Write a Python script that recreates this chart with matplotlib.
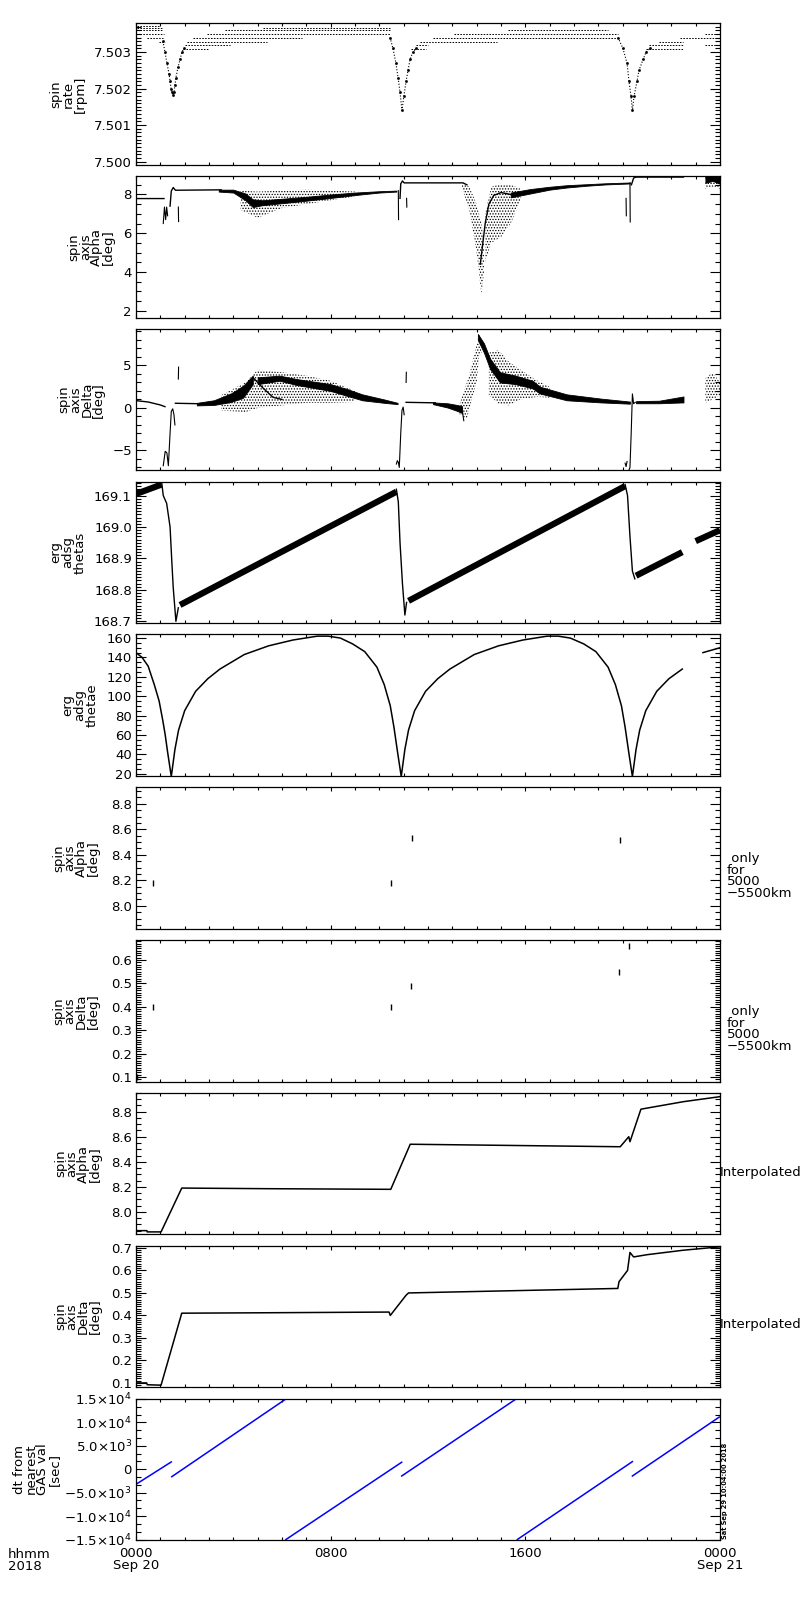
"""
ERG spin / attitude summary, ten stacked panels over one day (Sep 20 2018).
"""
import numpy as np
import matplotlib
matplotlib.use("Agg")
import matplotlib.pyplot as plt
from matplotlib.ticker import MultipleLocator, AutoMinorLocator, FuncFormatter

nan = np.nan

# ---------------- panel 1: spin rate [rpm] (quantised levels + dips)
rate_lvl = [7.50372, 7.50366, 7.50366, 7.50361, 7.50361, 7.50350, 7.50350,
            7.50339, 7.50339, 7.50328, 7.50328, 7.50320, 7.50309,
            7.50361, 7.50350, 7.50339, 7.50328, 7.50320, 7.50309,
            7.50309, 7.50320, 7.50328, 7.50339, 7.50350, 7.50320]
rate_t0 = [0.04, 0.04, 5.20, 0.04, 3.66, 0.04, 2.92, 0.45, 2.33, 0.95, 2.09, 2.01, 1.93,
           15.29, 13.07, 12.2, 11.67, 11.5, 11.3,
           20.96, 21.1, 21.5, 22.36, 23.4, 23.4]
rate_t1 = [0.99, 1.11, 10.44, 1.11, 10.44, 1.15, 10.44, 1.11, 6.82, 1.19, 5.38, 3.86, 2.99,
           19.40, 19.8, 19.8, 14.84, 12.0, 11.9,
           22.48, 22.48, 22.48, 24.0, 24.0, 24.0]
rate_dip_t = [1.11, 1.19, 1.27, 1.36, 1.40, 1.44, 1.48, 1.52, 1.56, 1.60, 1.64, 1.73, 1.81, 1.89, 1.97, nan,
              10.44, 10.56, 10.68, 10.77, 10.85, 10.93, 11.01, 11.10, 11.18, 11.26, 11.38, 11.51, nan,
              19.81, 20.01, 20.18, 20.26, 20.34, 20.40, 20.47, 20.59, 20.67, 20.84, 20.96, 21.12]
rate_dip_v = [7.5033, 7.5030, 7.5027, 7.5024, 7.5022, 7.5020, 7.5019, 7.50182, 7.5019, 7.5021,
              7.5023, 7.5026, 7.5028, 7.5030, 7.5031, nan,
              7.5034, 7.5031, 7.5027, 7.5023, 7.5019, 7.5014, 7.5018, 7.5022, 7.5025, 7.5028,
              7.5030, 7.5031, nan,
              7.5034, 7.5031, 7.5027, 7.5022, 7.5018, 7.5014, 7.5018, 7.5022, 7.5025, 7.5028,
              7.5030, 7.5031]

# ---------------- panel 2: spin axis Alpha [deg]
alpha_line_t = [0.0, 1.15, nan, 1.40, 1.45, 1.53, 1.62, 3.5, nan, 10.85, 10.88, 10.95, 11.02,
                13.44, 13.6, nan, 14.15, 14.35, 14.5, 14.7, 15.0, 15.4, nan, 20.36, 20.45, 20.55, 22.5]
alpha_line_v = [7.79, 7.79, nan, 7.4, 8.18, 8.36, 8.22, 8.24, nan, 7.8, 8.55, 8.7, 8.6,
                8.6, 8.5, nan, 4.4, 6.5, 7.5, 7.95, 8.1, 8.0, nan, 8.5, 8.85, 8.9, 8.9]
alpha_spk_t = [1.12, 1.17, 1.22, 1.26, 1.30, nan, 1.74, 1.75, nan, 10.78, 10.79, nan,
               11.12, 11.13, nan, 20.14, 20.15, nan, 20.30, 20.31]
alpha_spk_v = [6.5, 7.35, 6.7, 7.35, 6.9, nan, 7.35, 6.6, nan, 8.2, 6.7, nan,
               7.8, 7.35, nan, 7.8, 6.9, nan, 8.6, 6.58]
alpha_bandA_t = [3.4, 4.0, 4.5, 4.8, 5.2, 6.0, 7.0, 8.0, 9.0, 10.0, 10.7]
alpha_bandA_hi = [8.25, 8.25, 8.05, 7.75, 7.7, 7.78, 7.88, 8.0, 8.1, 8.17, 8.2]
alpha_bandA_lo = [8.15, 8.1, 7.7, 7.35, 7.45, 7.55, 7.68, 7.82, 7.97, 8.1, 8.15]
alpha_bandB_t = [15.4, 16.2, 17.0, 17.7, 18.5, 19.3, 20.3]
alpha_bandB_hi = [8.1, 8.28, 8.4, 8.48, 8.53, 8.58, 8.62]
alpha_bandB_lo = [7.85, 8.05, 8.25, 8.36, 8.45, 8.52, 8.57]
alpha_bandC_t = [23.4, 23.7, 24.0]
alpha_bandC_hi = [8.95, 8.95, 8.9]
alpha_bandC_lo = [8.6, 8.7, 8.55]
alpha_cloudA_t = [4.3, 5.0, 6.0, 7.0, 8.0, 9.0]
alpha_cloudA_hi = [8.2, 8.15, 8.2, 8.25, 8.2, 8.15]
alpha_cloudA_lo = [7.2, 6.8, 7.3, 7.5, 7.7, 7.9]
alpha_cloudB_t = [13.4, 13.7, 14.0, 14.2, 14.3]
alpha_cloudB_hi = [8.6, 8.4, 7.5, 6.5, 5.5]
alpha_cloudB_lo = [8.3, 7.2, 5.0, 2.8, 4.0]
alpha_cloudC_t = [14.35, 14.6, 15.0, 15.4, 15.8]
alpha_cloudC_hi = [7.0, 8.4, 8.55, 8.5, 8.3]
alpha_cloudC_lo = [4.5, 5.5, 5.8, 6.5, 7.7]
alpha_cloudD_t = [23.4, 23.7, 24.0]
alpha_cloudD_hi = [8.95, 8.95, 8.9]
alpha_cloudD_lo = [8.3, 8.4, 8.3]

# ---------------- panel 3: spin axis Delta [deg]
delta_line_t = [0.0, 0.5, 1.0, 1.19, nan, 1.62, 2.5, nan, 4.8, 5.2, 5.63, 6.0, nan, 11.1, 12.3]
delta_line_v = [0.86, 0.7, 0.35, 0.15, nan, 0.55, 0.5, nan, 3.6, 2.4, 1.25, 1.0, nan, 0.66, 0.6]
delta_dip_t = [1.12, 1.20, 1.27, 1.33, 1.40, 1.45, 1.51, 1.56, 1.60, nan, 1.74, 1.75, nan,
               10.70, 10.74, 10.78, 10.82, 10.88, 10.93, 10.98, 11.02, nan, 11.10, 11.11, nan,
               13.42, 13.47, nan,
               20.10, 20.14, 20.18, nan, 20.26, 20.30, 20.35, 20.40, 20.45, 20.52]
delta_dip_v = [-6.8, -5.1, -5.3, -6.8, -3.0, -0.4, -0.1, -0.8, -2.0, nan, 3.4, 4.8, nan,
               -6.6, -6.2, -6.4, -7.0, -3.0, -0.3, 0.1, -0.8, nan, 3.0, 4.2, nan,
               -0.5, -1.5, nan,
               -6.5, -6.9, -6.3, nan, -7.3, -7.0, -3.0, 1.65, 0.5, 0.66]
delta_bandA_t = [2.5, 3.2, 3.9, 4.4, 4.8]
delta_bandA_hi = [0.6, 0.9, 1.7, 2.6, 3.8]
delta_bandA_lo = [0.3, 0.35, 0.7, 1.2, 2.8]
delta_bandB_t = [5.0, 5.9, 6.6, 8.0, 8.7, 9.3, 10.2, 10.75]
delta_bandB_hi = [3.6, 3.8, 3.4, 2.8, 2.2, 1.6, 1.0, 0.6]
delta_bandB_lo = [2.8, 3.2, 2.7, 2.0, 1.4, 0.9, 0.6, 0.45]
delta_bandC_t = [12.2, 12.8, 13.2, 13.4]
delta_bandC_hi = [0.65, 0.55, 0.35, 0.2]
delta_bandC_lo = [0.45, 0.05, -0.35, -0.6]
delta_bandD_t = [14.05, 14.3, 14.55, 14.96, 15.6, 16.3, 16.6, 17.7, 19.1, 20.3]
delta_bandD_hi = [8.7, 7.6, 5.8, 4.2, 3.8, 3.2, 2.5, 1.6, 1.1, 0.75]
delta_bandD_lo = [8.0, 6.5, 4.6, 3.0, 2.8, 2.3, 1.7, 0.9, 0.65, 0.5]
delta_bandE_t = [20.55, 21.5, 22.0, 22.5]
delta_bandE_hi = [0.8, 0.85, 1.1, 1.35]
delta_bandE_lo = [0.55, 0.55, 0.6, 0.65]
delta_cloudA_t = [3.5, 4.5, 5.0, 6.0, 7.0, 8.0, 9.0]
delta_cloudA_hi = [1.5, 3.0, 4.5, 4.2, 3.8, 3.2, 2.0]
delta_cloudA_lo = [-0.3, -0.5, 0.0, 0.3, 0.6, 0.6, 0.7]
delta_cloudB_t = [13.3, 13.6, 13.8, 14.0, 14.1, 14.2]
delta_cloudB_hi = [0.5, 3.0, 5.0, 7.5, 8.7, 8.0]
delta_cloudB_lo = [-0.8, -1.3, 1.0, 3.0, 6.0, 6.5]
delta_cloudC_t = [14.5, 14.9, 15.3, 15.8, 16.5, 17.0]
delta_cloudC_hi = [6.5, 6.8, 5.5, 4.5, 3.2, 2.5]
delta_cloudC_lo = [1.5, 0.5, 0.3, 1.0, 1.3, 1.2]
delta_cloudD_t = [23.4, 23.7, 24.0]
delta_cloudD_hi = [3.5, 4.2, 3.0]
delta_cloudD_lo = [0.6, 1.0, 1.5]

# ---------------- panel 4: erg adsg thetas
thetas_band_t = [0.0, 1.05, nan, 1.81, 10.7, nan, 11.2, 20.1, nan, 20.55, 22.45, nan, 23.0, 24.0]
thetas_band_v = [169.105, 169.135, nan, 168.752, 169.112, nan, 168.765, 169.13, nan,
                 168.845, 168.92, nan, 168.955, 168.99]
thetas_drop_t = [1.05, 1.12, 1.26, 1.4, 1.47, 1.53, 1.64, 1.74, nan,
                 10.7, 10.78, 10.85, 10.95, 11.05, 11.12, nan,
                 20.1, 20.2, 20.3, 20.4, 20.5]
thetas_drop_v = [169.145, 169.10, 169.075, 169.0, 168.893, 168.807, 168.70, 168.743, nan,
                 169.12, 169.08, 168.95, 168.82, 168.72, 168.76, nan,
                 169.135, 169.10, 168.97, 168.86, 168.835]

# ---------------- panel 5: erg adsg thetae
thetae_t = [0.0, 0.25, 0.5, 0.75, 0.95, 1.1, 1.2, 1.3, 1.45,
            1.6, 1.75, 2.0, 2.45, 2.95, 3.45, 4.45, 5.45, 6.45, 7.45, 7.9,
            8.4, 8.9, 9.4, 9.9, 10.2, 10.45, 10.6, 10.75, 10.9,
            11.05, 11.2, 11.45, 11.9, 12.4, 12.9, 13.9, 14.9, 15.9, 16.9, 17.35,
            17.85, 18.4, 18.9, 19.4, 19.7, 19.95, 20.1, 20.25, 20.4,
            20.55, 20.7, 20.95, 21.4, 21.9, 22.45, nan, 23.3, 24.0]
thetae_v = [145, 140, 131, 112, 95, 75, 60, 42, 17,
            45, 65, 85, 105, 118, 128, 143, 152, 158, 162, 162,
            160, 154, 146, 130, 112, 90, 68, 42, 17,
            45, 65, 85, 105, 118, 128, 143, 152, 158, 162, 162,
            160, 154, 146, 130, 112, 90, 68, 42, 17,
            45, 65, 85, 105, 118, 128, nan, 145, 150]

# ---------------- panels 6/7: alpha / delta only for 5000-5500 km
alt_alpha_t = [0.7, 10.48, 11.34, 19.9]
alt_alpha_v = [8.18, 8.18, 8.53, 8.52]
alt_delta_t = [0.05, 0.7, 10.48, 11.3, 19.85, 20.25]
alt_delta_v = [0.10, 0.40, 0.40, 0.49, 0.55, 0.66]

# ---------------- panels 8/9: interpolated alpha / delta
interp_alpha_t = [0.0, 0.45, 0.46, 1.03, 1.88, 5.4, 10.47, 11.27, 19.9, 20.25, 20.3, 20.75, 22.5, 24.0]
interp_alpha_v = [7.85, 7.85, 7.84, 7.84, 8.19, 8.185, 8.18, 8.54, 8.52, 8.6, 8.56, 8.82, 8.88, 8.92]
interp_delta_t = [0.0, 0.44, 0.46, 1.03, 1.88, 5.5, 10.4, 10.45, 11.1, 11.2, 19.8, 19.85, 20.2,
                  20.3, 20.45, 21.0, 22.5, 24.0]
interp_delta_v = [0.1, 0.1, 0.092, 0.09, 0.41, 0.412, 0.415, 0.40, 0.49, 0.5, 0.52, 0.55, 0.6,
                  0.68, 0.66, 0.67, 0.69, 0.705]

# ---------------- panel 10: dt from nearest GAS val [sec]
dt_t = [0.0, 1.45, nan, 1.47, 6.16, nan, 6.16, 10.92, nan, 10.92, 15.62, nan,
        15.67, 20.40, nan, 20.40, 23.97]
dt_v = [-3214, 1564, nan, -1586, 15000, nan, -15000, 1500, nan, -1436, 15000, nan,
        -15000, 1630, nan, -1436, 11140]

YLABELS = ["spin\nrate\n[rpm]", "spin\naxis\nAlpha\n[deg]", "spin\naxis\nDelta\n[deg]",
           "erg\nadsg\nthetas", "erg\nadsg\nthetae", "spin\naxis\nAlpha\n[deg]",
           "spin\naxis\nDelta\n[deg]", "spin\naxis\nAlpha\n[deg]", "spin\naxis\nDelta\n[deg]",
           "dt from\nnearest\nGAS val\n[sec]"]
YLABEL_X = [68, 91, 81, 68, 80, 76, 76, 78, 78, 37]
RIGHT_NOTES = [None, None, None, None, None, " only\nfor\n5000\n\u22125500km",
               " only\nfor\n5000\n\u22125500km", "Interpolated", "Interpolated", None]

# --- layout in pixels
FIG_W, FIG_H = 800, 1600
LEFT, RIGHT = 136, 720
TOP0, PITCH, HEIGHT = 23.3, 152.8, 141.5

plt.rcParams["font.family"] = "DejaVu Sans"
plt.rcParams["font.size"] = 9.5
plt.rcParams["axes.linewidth"] = 0.9
plt.rcParams["hatch.linewidth"] = 0.6
plt.rcParams["axes.unicode_minus"] = True


def panel_rect(i):
    top = TOP0 + i * PITCH
    return [LEFT / FIG_W, 1 - (top + HEIGHT) / FIG_H, (RIGHT - LEFT) / FIG_W, HEIGHT / FIG_H]


def fmt(spec):
    return FuncFormatter(lambda v, p: (spec % v).replace("-", "\u2212"))


def style_axis(ax, ylim, ystep, yfmt, nminor):
    ax.set_xlim(0, 24)
    ax.set_ylim(*ylim)
    ax.xaxis.set_major_locator(MultipleLocator(8))
    ax.xaxis.set_minor_locator(MultipleLocator(1))
    ax.yaxis.set_major_locator(MultipleLocator(ystep))
    ax.yaxis.set_minor_locator(AutoMinorLocator(nminor))
    ax.yaxis.set_major_formatter(yfmt)
    ax.tick_params(which="both", direction="in", top=True, right=True,
                   labelbottom=False, width=0.8)
    ax.tick_params(axis="y", which="major", length=7.5, pad=3)
    ax.tick_params(axis="y", which="minor", length=3.8)
    ax.tick_params(axis="x", which="major", length=3.2)
    ax.tick_params(axis="x", which="minor", length=2.0)


def band(ax, t, lo, hi):
    ax.fill_between(t, lo, hi, color="black", lw=0.6)


def cloud(ax, t, lo, hi):
    ax.fill_between(t, lo, hi, facecolor="none", edgecolor="black", hatch="......", lw=0)


fig = plt.figure(figsize=(FIG_W / 100, FIG_H / 100), dpi=100)
axes = [fig.add_axes(panel_rect(i)) for i in range(10)]

# panel 1
ax = axes[0]
ax.hlines(rate_lvl, rate_t0, rate_t1, colors="black", lw=0.7, linestyles=(0, (1.6, 1.4)))
ax.plot(rate_dip_t, rate_dip_v, ls=":", lw=0.8, color="black", marker="s", ms=0.9)
style_axis(ax, (7.49991, 7.50379), 0.001, fmt("%.3f"), 10)

# panel 2
ax = axes[1]
ax.plot(alpha_line_t, alpha_line_v, color="black", lw=1.0)
ax.plot(alpha_spk_t, alpha_spk_v, color="black", lw=0.8)
for t, lo, hi in [(alpha_bandA_t, alpha_bandA_lo, alpha_bandA_hi),
                  (alpha_bandB_t, alpha_bandB_lo, alpha_bandB_hi),
                  (alpha_bandC_t, alpha_bandC_lo, alpha_bandC_hi)]:
    band(ax, t, lo, hi)
for t, lo, hi in [(alpha_cloudA_t, alpha_cloudA_lo, alpha_cloudA_hi),
                  (alpha_cloudB_t, alpha_cloudB_lo, alpha_cloudB_hi),
                  (alpha_cloudC_t, alpha_cloudC_lo, alpha_cloudC_hi),
                  (alpha_cloudD_t, alpha_cloudD_lo, alpha_cloudD_hi)]:
    cloud(ax, t, lo, hi)
style_axis(ax, (1.64, 8.95), 2, fmt("%d"), 4)

# panel 3
ax = axes[2]
ax.plot(delta_line_t, delta_line_v, color="black", lw=1.0)
ax.plot(delta_dip_t, delta_dip_v, color="black", lw=0.8)
for t, lo, hi in [(delta_bandA_t, delta_bandA_lo, delta_bandA_hi),
                  (delta_bandB_t, delta_bandB_lo, delta_bandB_hi),
                  (delta_bandC_t, delta_bandC_lo, delta_bandC_hi),
                  (delta_bandD_t, delta_bandD_lo, delta_bandD_hi),
                  (delta_bandE_t, delta_bandE_lo, delta_bandE_hi)]:
    band(ax, t, lo, hi)
for t, lo, hi in [(delta_cloudA_t, delta_cloudA_lo, delta_cloudA_hi),
                  (delta_cloudB_t, delta_cloudB_lo, delta_cloudB_hi),
                  (delta_cloudC_t, delta_cloudC_lo, delta_cloudC_hi),
                  (delta_cloudD_t, delta_cloudD_lo, delta_cloudD_hi)]:
    cloud(ax, t, lo, hi)
style_axis(ax, (-7.35, 9.3), 5, fmt("%d"), 5)

# panel 4
ax = axes[3]
ax.plot(thetas_band_t, thetas_band_v, color="black", lw=4.5, solid_capstyle="butt")
ax.plot(thetas_drop_t, thetas_drop_v, color="black", lw=1.0)
style_axis(ax, (168.694, 169.144), 0.1, fmt("%.1f"), 10)

# panel 5
ax = axes[4]
ax.plot(thetae_t, thetae_v, color="black", lw=1.1)
style_axis(ax, (17.5, 163.7), 20, fmt("%d"), 4)

# panels 6, 7
ax = axes[5]
ax.plot(alt_alpha_t, alt_alpha_v, ls="none", marker="|", ms=4, mew=1.0, color="black")
style_axis(ax, (7.82, 8.93), 0.2, fmt("%.1f"), 4)
ax = axes[6]
ax.plot(alt_delta_t, alt_delta_v, ls="none", marker="|", ms=5, mew=1.0, color="black")
style_axis(ax, (0.08, 0.685), 0.1, fmt("%.1f"), 10)

# panels 8, 9
ax = axes[7]
ax.plot(interp_alpha_t, interp_alpha_v, color="black", lw=1.1)
style_axis(ax, (7.82, 8.95), 0.2, fmt("%.1f"), 4)
ax = axes[8]
ax.plot(interp_delta_t, interp_delta_v, color="black", lw=1.1)
style_axis(ax, (0.081, 0.71), 0.1, fmt("%.1f"), 10)

# panel 10
ax = axes[9]
ax.plot(dt_t, dt_v, color="blue", lw=1.1)
dt_labels = {15000: r"1.5$\times$10$^4$", 10000: r"1.0$\times$10$^4$",
             5000: r"5.0$\times$10$^3$", 0: "0", -5000: "\u22125.0$\\times$10$^3$",
             -10000: "\u22121.0$\\times$10$^4$", -15000: "\u22121.5$\\times$10$^4$"}
style_axis(ax, (-15100, 15100), 5000,
           FuncFormatter(lambda v, p: dt_labels.get(int(round(v)), "")), 3)
ax.tick_params(labelbottom=True, axis="x", pad=5)
ax.set_xticks([0, 8, 16, 24])
ax.set_xticklabels(["0000\nSep 20", "0800", "1600", "0000\nSep 21"], linespacing=0.9)
fig.text(8 / FIG_W, 1 - 1548 / FIG_H, "hhmm\n2018", ha="left", va="top", linespacing=0.9)
fig.text(722 / FIG_W, 1 - 1539 / FIG_H, "Sat Sep 29 10:04:00 2018", rotation=90,
         fontsize=4.8, fontweight="bold", ha="left", va="bottom")

for ax, lab, xpx, note in zip(axes, YLABELS, YLABEL_X, RIGHT_NOTES):
    nl = lab.count("\n") + 1
    ax.text((xpx - LEFT) / (RIGHT - LEFT), 0.5, lab, transform=ax.transAxes, rotation=90,
            ha="center", va="center", linespacing=0.85 if nl == 4 else 0.95,
            multialignment="center")
    if note is None:
        continue
    if note.startswith("Interp"):
        ax.text(1.0, 0.44, note, transform=ax.transAxes, ha="left", va="center")
    else:
        ax.text(1.012, 0.54, note, transform=ax.transAxes, ha="left", va="top",
                linespacing=0.85)

fig.savefig("out.png", dpi=100)
